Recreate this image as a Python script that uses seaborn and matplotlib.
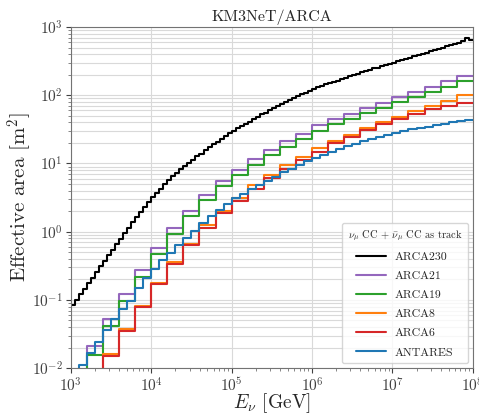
import numpy as np
import pandas as pd
import matplotlib
matplotlib.use("Agg")
import matplotlib.pyplot as plt
import seaborn as sns

# effective areas [m^2], one value per energy bin (log10 E from 3 to 8)
arca230 = [0.083, 0.100, 0.122, 0.146, 0.177, 0.213, 0.259, 0.311, 0.378, 0.455,
           0.548, 0.662, 0.792, 0.958, 1.15, 1.37, 1.66, 1.97, 2.30, 2.74,
           3.21, 3.73, 4.27, 4.95, 5.68, 6.45, 7.22, 8.20, 9.18, 10.3,
           11.3, 12.7, 14.0, 15.7, 17.3, 19.1, 20.8, 23.0, 25.0, 27.7,
           30.1, 32.8, 35.2, 38.4, 41.1, 44.9, 48.1, 52.5, 55.7, 60.3,
           64.0, 69.2, 73.5, 79.4, 84.3, 90.8, 96.0, 103, 109, 117,
           124, 131, 136, 144, 149, 158, 163, 173, 179, 190,
           196, 208, 216, 227, 234, 247, 254, 268, 276, 292,
           300, 318, 325, 344, 354, 373, 385, 406, 418, 441,
           455, 480, 496, 524, 541, 572, 590, 622, 680, 638]

arca21 = [0.008, 0.0209, 0.0518, 0.122, 0.273, 0.581, 1.14, 2.03, 3.47, 5.50,
          8.04, 11.5, 15.7, 21.1, 27.5, 36.1, 44.5, 54.0, 65.9, 78.0,
          94.4, 112, 132, 160, 189]

arca19 = [0.006, 0.0158, 0.0409, 0.097, 0.219, 0.474, 0.929, 1.70, 2.94, 4.65,
          6.73, 9.57, 13.2, 17.5, 22.9, 30.0, 37.3, 44.8, 54.8, 65.9,
          79.3, 93.8, 111, 132, 160]

arca8 = [0.003, 0.0065, 0.0160, 0.0371, 0.0828, 0.179, 0.363, 0.664, 1.26, 2.01,
         3.11, 4.86, 6.67, 9.51, 12.6, 16.7, 21.1, 26.0, 32.6, 39.9,
         48.3, 58.2, 69.8, 82.6, 99.7]

arca6 = [0.003, 0.0062, 0.0153, 0.0355, 0.0793, 0.169, 0.340, 0.631, 1.12, 1.85,
         2.84, 4.28, 6.08, 8.32, 11.2, 14.9, 19.7, 24.7, 30.8, 37.6,
         45.6, 54.0, 63.8, 70.5, 78.0]

antares = [0.007, 0.0111, 0.0166, 0.0239, 0.0358, 0.0518, 0.0731, 0.0980, 0.152, 0.212,
           0.281, 0.379, 0.491, 0.649, 0.798, 1.03, 1.32, 1.68, 2.10, 2.59,
           3.11, 3.56, 4.28, 4.81, 5.56, 6.30, 7.45, 8.32, 9.51, 10.7,
           11.9, 13.3, 14.8, 16.4, 17.8, 19.4, 21.1, 22.9, 24.5, 26.2,
           28.0, 30.0, 31.5, 33.1, 34.8, 36.6, 38.5, 40.1, 41.7, 43.1]

series = [
    ("ARCA230", arca230, "black"),
    ("ARCA21", arca21, "tab:purple"),
    ("ARCA19", arca19, "tab:green"),
    ("ARCA8", arca8, "tab:orange"),
    ("ARCA6", arca6, "tab:red"),
    ("ANTARES", antares, "tab:blue"),
]

sns.set_style("ticks")
plt.rcParams["font.family"] = ["cmr10", "DejaVu Serif"]
plt.rcParams["mathtext.fontset"] = "cm"
plt.rcParams["axes.formatter.use_mathtext"] = True

fig, ax = plt.subplots(figsize=(4.79, 4.16), dpi=100)
fig.subplots_adjust(left=0.148, right=0.987, top=0.935, bottom=0.115)
ax.set_xscale("log")
ax.set_yscale("log")

for name, vals, col in series:
    edges = np.logspace(3, 8, len(vals) + 1)
    df = pd.DataFrame({"E": edges, "A": np.append(vals, vals[-1])})
    sns.lineplot(data=df, x="E", y="A", ax=ax, color=col, lw=1.5,
                 drawstyle="steps-post", estimator=None, label=name)

ax.set_xlim(1e3, 1e8)
ax.set_ylim(1e-2, 1e3)
ax.grid(True, which="major", color="#d9d9d9", lw=0.8)
ax.grid(True, which="minor", axis="y", color="#d9d9d9", lw=0.8)
ax.set_axisbelow(True)
for sp in ax.spines.values():
    sp.set_color("0.45")
ax.tick_params(colors="0.25", labelsize=11, pad=2.5)
ax.tick_params(which="minor", colors="0.45")

ax.set_title("KM3NeT/ARCA", fontsize=11.5, pad=4)
ax.set_xlabel(r"$E_\nu$ [GeV]", fontsize=14, labelpad=-2.5)
ax.set_ylabel(r"Effective area [m$^2$]", fontsize=15, labelpad=-2)

ax.legend(title=r"$\nu_\mu$ CC + $\bar{\nu}_\mu$ CC as track", loc="lower right",
          fontsize=8.5, title_fontsize=7.5, handlelength=2.5, labelspacing=0.75,
          borderaxespad=0.4, borderpad=0.5)

plt.savefig("out.png", dpi=100)
